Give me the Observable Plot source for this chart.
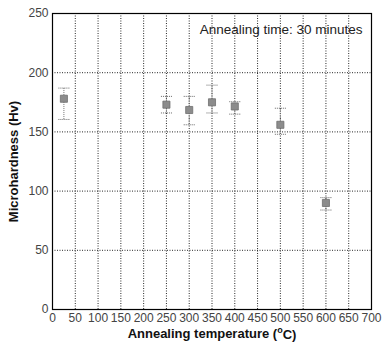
<!DOCTYPE html>
<html>
<head>
<meta charset="utf-8">
<script src="https://cdn.jsdelivr.net/npm/d3@7"></script>
<script src="https://cdn.jsdelivr.net/npm/@observablehq/plot@0.6"></script>
<style>
  html, body { margin: 0; padding: 0; background: #fff; }
  #chart svg { display: block; }
</style>
</head>
<body>
<div id="chart"></div>
<script>
const temperatures = [25, 250, 300, 350, 400, 500, 600];
const hardness     = [178, 173, 168.5, 175, 171.5, 156, 90];
const errLow       = [160.5, 166, 156, 166, 165, 148, 84];
const errHigh      = [187, 180, 180, 189.5, 175.5, 170, 94.5];
const xTicks = d3.range(0, 701, 50);
const yTicks = [0, 50, 100, 150, 200, 250];
const annotation = "Annealing time: 30 minutes";

const data = temperatures.map((t, i) => ({t, h: hardness[i], lo: errLow[i], hi: errHigh[i]}));
const caps = data.flatMap(d => [{t: d.t, v: d.lo}, {t: d.t, v: d.hi}]);

const capSymbol = {
  draw(ctx, size) {
    const r = Math.sqrt(size / Math.PI);
    ctx.moveTo(-r, 0);
    ctx.lineTo(r, 0);
  }
};

const chart = Plot.plot({
  width: 382,
  height: 346,
  marginLeft: 52,
  marginRight: 11,
  marginTop: 13,
  marginBottom: 37,
  style: {fontFamily: "'Liberation Sans', Arial, sans-serif", fontSize: "12px", color: "#444", background: "#fff"},
  x: {domain: [0, 700], ticks: xTicks, tickSize: 0, tickPadding: 4, label: "Annealing temperature (°C)", labelAnchor: "center", labelArrow: "none", labelOffset: 28},
  y: {domain: [0, 250], ticks: yTicks, tickSize: 0, tickPadding: 4, label: "Microhardness (Hv)", labelAnchor: "center", labelArrow: "none", labelOffset: 44},
  marks: [
    Plot.gridX(xTicks, {stroke: "#000", strokeOpacity: 0.85, strokeDasharray: "1,1.5"}),
    Plot.gridY(yTicks, {stroke: "#000", strokeOpacity: 0.85, strokeDasharray: "1,1.5"}),
    Plot.ruleX(data, {x: "t", y1: "lo", y2: "hi", stroke: "#777", strokeDasharray: "1,1"}),
    Plot.dot(caps, {x: "t", y: "v", symbol: capSymbol, r: 5.5, stroke: "#666", strokeWidth: 1, strokeDasharray: "1,1"}),
    Plot.dot(data, {x: "t", y: "h", symbol: "square", r: 4, fill: "#8c8c8c", stroke: "#6e6e6e", strokeWidth: 0.8}),
    Plot.text([annotation], {frameAnchor: "top-right", dx: -9, dy: 11, fontSize: 13.5, fill: "#222"}),
    Plot.frame({stroke: "#000", strokeWidth: 1.2})
  ]
});

document.getElementById("chart").appendChild(chart);

// style axis labels (bold) and superscript the degree sign
const svg = d3.select(chart);
svg.selectAll("g[aria-label='x-axis label'] text, g[aria-label='y-axis label'] text")
  .attr("font-weight", "bold")
  .attr("font-size", 13)
  .attr("fill", "#111");
const xl = svg.select("g[aria-label='x-axis label'] text");
if (!xl.empty()) {
  xl.text(null);
  xl.append("tspan").text("Annealing temperature (");
  xl.append("tspan").attr("dy", "-0.45em").attr("font-size", 9).text("o");
  xl.append("tspan").attr("dy", "0.45em").text("C)");
}
</script>
</body>
</html>
